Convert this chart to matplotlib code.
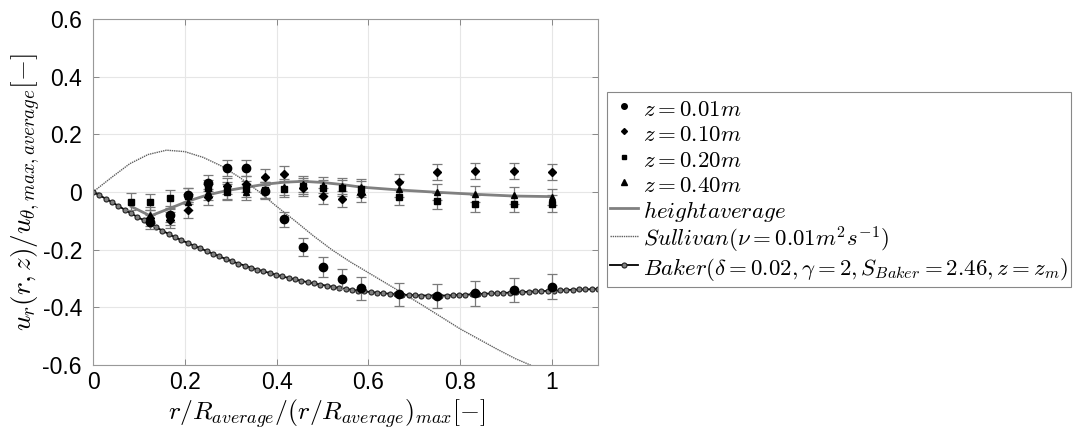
import numpy as np
import matplotlib
matplotlib.use("Agg")
from matplotlib import pyplot as plt
from matplotlib.ticker import FuncFormatter

plt.rcParams['mathtext.fontset'] = 'cm'
plt.rcParams['axes.unicode_minus'] = False
plt.rcParams['font.family'] = ['Liberation Sans', 'DejaVu Sans']

# measured points, radial positions
x_pts = [0.125, 0.167, 0.208, 0.25, 0.292, 0.333, 0.375, 0.417, 0.458,
         0.5, 0.542, 0.583, 0.667, 0.75, 0.833, 0.917, 1.0]
x_sq = [0.083] + x_pts

# z = 0.01m
y_z001 = [-0.105, -0.08, -0.01, 0.03, 0.082, 0.082, 0.005, -0.095, -0.19,
          -0.26, -0.302, -0.334, -0.355, -0.361, -0.352, -0.34, -0.329]
e_z001 = [0.025, 0.025, 0.025, 0.028, 0.028, 0.028, 0.028, 0.027, 0.032,
          0.036, 0.036, 0.039, 0.04, 0.042, 0.042, 0.042, 0.043]
# z = 0.10m
y_z010 = [-0.09, -0.097, -0.062, -0.018, 0.02, 0.027, 0.052, 0.062, 0.013,
          -0.014, -0.025, -0.008, 0.034, 0.068, 0.074, 0.074, 0.07]
e_z010 = [0.028, 0.028, 0.028, 0.028, 0.028, 0.028, 0.028, 0.028, 0.028,
          0.028, 0.028, 0.028, 0.028, 0.028, 0.028, 0.028, 0.028]
# z = 0.20m
y_z020 = [-0.034, -0.034, -0.022, -0.014, 0.013, 0.005, 0.01, 0.008, 0.01,
          0.02, 0.015, 0.014, 0.01, -0.016, -0.03, -0.04, -0.042, -0.04]
e_z020 = [0.03, 0.028, 0.028, 0.028, 0.028, 0.028, 0.028, 0.028, 0.028,
          0.028, 0.028, 0.028, 0.028, 0.028, 0.028, 0.028, 0.028, 0.028]
# z = 0.40m
y_z040 = [-0.08, -0.088, -0.034, 0.0, 0.0, 0.0, 0.008, 0.018, 0.028,
          0.024, 0.02, 0.016, 0.01, 0.001, -0.008, -0.012, -0.016]
e_z040 = [0.028, 0.028, 0.028, 0.028, 0.028, 0.028, 0.028, 0.028, 0.028,
          0.028, 0.028, 0.028, 0.028, 0.028, 0.028, 0.028, 0.028]

# height average
y_avg = [-0.05, -0.083, -0.057, -0.031, -0.01, 0.005, 0.016, 0.027, 0.034,
         0.037, 0.033, 0.026, 0.017, 0.007, -0.001, -0.008, -0.014, -0.016]

# Sullivan vortex
x_sul = [0.0, 0.04, 0.08, 0.12, 0.16, 0.2, 0.24, 0.28, 0.32, 0.36, 0.4, 0.44,
         0.48, 0.52, 0.56, 0.6, 0.64, 0.68, 0.72, 0.76, 0.8, 0.84, 0.88,
         0.92, 0.96, 1.0]
y_sul = [0.0, 0.05, 0.098, 0.13, 0.145, 0.14, 0.12, 0.09, 0.05, 0.003, -0.05,
         -0.1, -0.152, -0.2, -0.242, -0.28, -0.318, -0.356, -0.395, -0.435,
         -0.475, -0.51, -0.545, -0.578, -0.605, -0.63]

# Baker vortex
x_bak = np.linspace(0, 1.1, 81)
y_bak = [0.0, -0.011, -0.023, -0.035, -0.048, -0.061, -0.074, -0.086, -0.098,
         -0.110, -0.122, -0.134, -0.146, -0.157, -0.167, -0.177, -0.186,
         -0.195, -0.205, -0.214, -0.223, -0.232, -0.240, -0.248, -0.255,
         -0.262, -0.269, -0.275, -0.281, -0.287, -0.293, -0.298, -0.303,
         -0.308, -0.313, -0.317, -0.321, -0.325, -0.329, -0.333, -0.336,
         -0.339, -0.342, -0.345, -0.347, -0.349, -0.351, -0.353, -0.355,
         -0.356, -0.357, -0.358, -0.359, -0.359, -0.359, -0.359, -0.359,
         -0.358, -0.357, -0.356, -0.355, -0.354, -0.353, -0.352, -0.351,
         -0.350, -0.349, -0.348, -0.347, -0.346, -0.345, -0.344, -0.343,
         -0.342, -0.341, -0.340, -0.339, -0.338, -0.338, -0.337, -0.336]

fig = plt.figure(figsize=(10.8, 4.38), dpi=100)
ax = fig.add_axes([93 / 1080, 73 / 438, 505 / 1080, 346 / 438])

ecol = "#7a7a7a"
series = [
    (x_pts, y_z001, e_z001, "o", 6.0, 4.0, r"$z=0.01m$"),
    (x_pts, y_z010, e_z010, "D", 4.0, 3.0, r"$z=0.10m$"),
    (x_sq, y_z020, e_z020, "s", 4.5, 3.2, r"$z=0.20m$"),
    (x_pts, y_z040, e_z040, "^", 5.0, 4.0, r"$z=0.40m$"),
]
handles = []
for xs, ys, es, mk, ms, lms, lab in series:
    ax.errorbar(xs, ys, yerr=es, fmt="none", ecolor=ecol, elinewidth=0.9,
                capsize=3.5, capthick=0.9, zorder=3)
    ax.plot(xs, ys, linestyle="none", marker=mk, markersize=ms,
            color="black", zorder=4)
    # smaller marker for legend entry
    h, = ax.plot([], [], linestyle="none", marker=mk, markersize=lms,
                 color="black", label=lab)
    handles.append(h)

h, = ax.plot(x_sq, y_avg, color="#808080", lw=2.0, label=r"$heightaverage$", zorder=2)
handles.append(h)
h, = ax.plot(x_sul, y_sul, color="#606060", lw=1.0, linestyle=(0, (1, 0.6)),
             label=r"$Sullivan(\nu=0.01m^2s^{-1})$", zorder=2)
handles.append(h)
h, = ax.plot(x_bak, y_bak, color="black", lw=1.3, marker="o", markersize=3.6,
             markerfacecolor="#808080", markeredgecolor="#222222", markeredgewidth=0.8,
             label=r"$Baker(\delta=0.02,\gamma=2,S_{Baker}=2.46,z=z_m)$", zorder=2)
handles.append(h)

ax.set_xlim(0, 1.1)
ax.set_ylim(-0.6, 0.6)
ax.set_xticks([0, 0.2, 0.4, 0.6, 0.8, 1.0])
ax.set_yticks([-0.6, -0.4, -0.2, 0, 0.2, 0.4, 0.6])
ax.xaxis.set_major_formatter(FuncFormatter(lambda v, p: "%g" % round(v, 2)))
ax.yaxis.set_major_formatter(FuncFormatter(lambda v, p: "%g" % round(v, 2)))
ax.tick_params(direction="in", top=True, right=True, labelsize=16.5,
               color="#888888", length=4, width=0.7)
ax.tick_params(axis="y", pad=8)
ax.tick_params(axis="x", pad=4)
ax.grid(True, color="#e6e6e6", lw=0.8)
ax.set_axisbelow(True)
for sp in ax.spines.values():
    sp.set_color("#999999")
    sp.set_linewidth(0.8)

ax.set_xlabel(r"$r/R_{average}/(r/R_{average})_{max}[-]$", fontsize=18.5)
ax.xaxis.set_label_coords(0.463, -0.092, transform=ax.transAxes)
ax.xaxis.label.set_va("top")
ax.set_ylabel(r"$u_r(r,z)/u_{\theta,max,average}[-]$", fontsize=19.5, labelpad=0)

leg = fig.legend(handles=handles, loc="upper left",
                 bbox_to_anchor=(607 / 1080, 1 - 92 / 438), borderaxespad=0,
                 fontsize=16.5, handlelength=1.2, handletextpad=0.2,
                 handleheight=1.3, labelspacing=0.02, borderpad=0.15,
                 fancybox=False, framealpha=1, edgecolor="#888888")
leg.get_frame().set_linewidth(0.8)

plt.savefig("out.png", dpi=100)
